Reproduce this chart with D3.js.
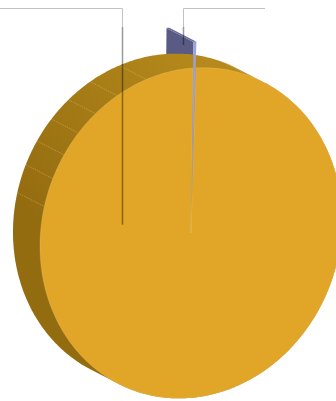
<!DOCTYPE html>
<html><head><meta charset="utf-8">
<script src="https://cdn.jsdelivr.net/npm/d3@7"></script>
<style>html,body{margin:0;padding:0;background:#fff}svg{display:block}</style>
</head><body>
<svg id="chart" width="336" height="401"></svg>
<script>
// ---- data ----
const categories = ["Slice B", "Slice A"];
const values = [0.3, 99.7];
const sliced = [true, false];
const topColors = ["#9ca1d9", "#e1a527"];
const sideColors = ["#5a5b85", "#946c10"];
const sideLightColors = ["#6a6c9c", "#b5891b"];
// wall seam angles (degrees, pie angle clockwise from top)
const seamAngles = [283, 293, 302, 311, 320, 330, 342, 22];
// connector anchors
const connAnchors = [
  {slice: 1, angle: 280, r: 0.466, t: 0, labelX: 0},
  {slice: 0, angle: 0, r: 0.95, t: 0.37, labelX: 265}
];

// ---- layout ----
const svg = d3.select("#chart");
const C = [191, 233];          // top face centre
const A = [151, -11];          // pie x-axis on screen
const B = [-2, 165];           // pie y-axis (down) on screen
const D = [-27, -14];          // depth vector
const slicedOffset = 0.158;    // fraction of radius
const labelY = 8, connBreakY = 27;

const pie = d3.pie().sort(null).startAngle(0).endAngle(2 * Math.PI);
const arcs = pie(values);
const rScale = d3.scaleLinear().domain([0, 1]).range([0, 1]);

function offsetFor(i) {
  if (!sliced[i]) return [0, 0];
  const m = (arcs[i].startAngle + arcs[i].endAngle) / 2;
  const u = Math.sin(m) * slicedOffset, v = -Math.cos(m) * slicedOffset;
  return [u * A[0] + v * B[0], u * A[1] + v * B[1]];
}
function P(theta, r, t, off) {
  const rr = rScale(r);
  const u = rr * Math.sin(theta), v = -rr * Math.cos(theta);
  return [C[0] + u * A[0] + v * B[0] + t * D[0] + off[0],
          C[1] + u * A[1] + v * B[1] + t * D[1] + off[1]];
}
const line = d3.line();
function arcPts(a0, a1, r, t, off, n) {
  const pts = [];
  for (let k = 0; k <= n; k++) pts.push(P(a0 + (a1 - a0) * k / n, r, t, off));
  return pts;
}

const defs = svg.append("defs");
const grad = defs.append("linearGradient").attr("id", "wallGrad")
  .attr("gradientUnits", "userSpaceOnUse")
  .attr("x1", 200).attr("y1", 55).attr("x2", 30).attr("y2", 215);
grad.append("stop").attr("offset", 0).attr("stop-color", sideLightColors[1]);
grad.append("stop").attr("offset", 1).attr("stop-color", sideColors[1]);

const gBack = svg.append("g"), gMid = svg.append("g"), gWall = svg.append("g"),
      gTop = svg.append("g"), gFront = svg.append("g"), gConn = svg.append("g");

// small (sliced) slice
arcs.forEach((d, i) => {
  if (i !== 0) return;
  const off = offsetFor(i);
  const q = [P(0, 0, 0, off), P(d.startAngle, 1, 0, off), P(d.startAngle, 1, 1, off), P(0, 0, 1, off)];
  gBack.append("path").attr("d", line(q) + "Z").attr("fill", sideColors[i]);
  const outer = arcPts(d.startAngle, d.endAngle, 1, 0, off, 4);
  const outerD = arcPts(d.startAngle, d.endAngle, 1, 1, off, 4).reverse();
  gBack.append("path").attr("d", line(outer.concat(outerD)) + "Z").attr("fill", sideLightColors[i]);
  const top = [P(0, 0, 0, off)].concat(arcPts(d.startAngle, d.endAngle, 1, 0, off, 4));
  gFront.append("path").attr("d", line(top) + "Z").attr("fill", topColors[i]);
});

// big slice
arcs.forEach((d, i) => {
  if (i !== 1) return;
  const off = offsetFor(i);
  [d.startAngle, d.endAngle].forEach(a => {
    const q = [P(a, 0, 0, off), P(a, 1, 0, off), P(a, 1, 1, off), P(a, 0, 1, off)];
    gMid.append("path").attr("d", line(q) + "Z").attr("fill", "#a27816");
  });
  // outer wall: hull of front and back rims
  const rim = arcPts(d.startAngle, d.endAngle, 1, 0, off, 360)
    .concat(arcPts(d.startAngle, d.endAngle, 1, 1, off, 360));
  const hull = d3.polygonHull(rim);
  gWall.append("path").attr("d", line(hull) + "Z").attr("fill", "url(#wallGrad)");
  seamAngles.forEach(deg => {
    const a = deg * Math.PI / 180;
    gWall.append("path").attr("d", line([P(a, 1, 1, off), P(a, 1, 0, off)]))
      .attr("stroke", "rgba(255,225,150,0.45)").attr("stroke-width", 0.7)
      .attr("stroke-dasharray", "1.5,1").attr("fill", "none");
  });
  const top = [P(0, 0, 0, off)].concat(arcPts(d.startAngle, d.endAngle, 1, 0, off, 360));
  gTop.append("path").attr("d", line(top) + "Z").attr("fill", topColors[i])
    .attr("stroke", "rgba(255,240,200,0.3)").attr("stroke-width", 0.6);
});

// connectors
connAnchors.forEach(c => {
  const d = arcs[c.slice];
  const off = offsetFor(c.slice);
  const ang = c.angle === null ? (d.startAngle + d.endAngle) / 2 : c.angle * Math.PI / 180;
  const end = P(ang, c.r, c.t, off);
  const x = Math.round(end[0]) + 0.5;
  gConn.append("path")
    .attr("d", line([[c.labelX, labelY + 0.5], [x, labelY + 0.5], [x, connBreakY]]))
    .attr("fill", "none").attr("stroke", "#c2c2c2").attr("stroke-width", 1);
  gConn.append("path")
    .attr("d", line([[x, connBreakY], [x, end[1]]]))
    .attr("fill", "none").attr("stroke", "rgba(0,0,0,0.4)").attr("stroke-width", 1.5);
});
</script>
</body></html>
